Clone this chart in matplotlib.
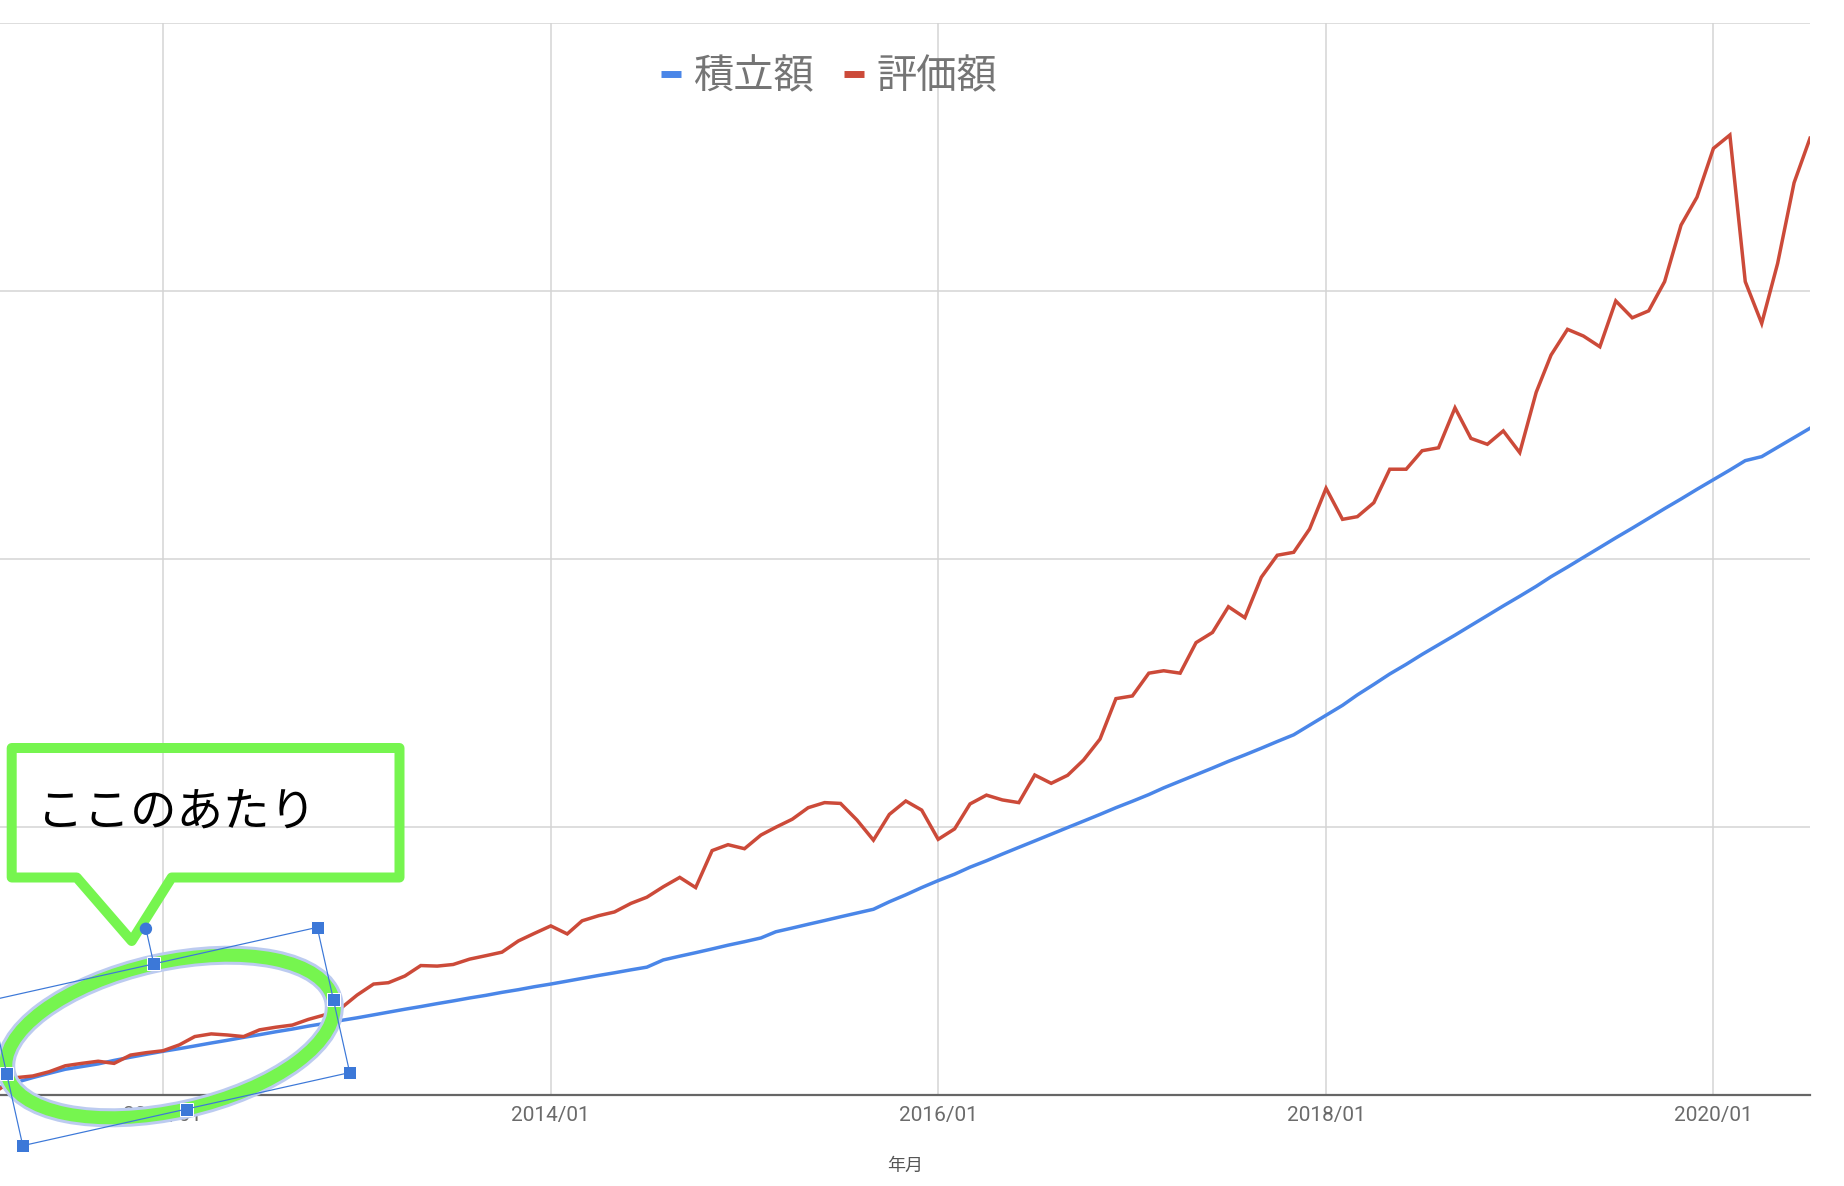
import numpy as np
import pandas as pd
import matplotlib
matplotlib.use('Agg')
import matplotlib.pyplot as plt
import matplotlib.dates as mdates
from matplotlib.lines import Line2D
from matplotlib.patches import Ellipse, Polygon, Rectangle, Circle

plt.rcParams['font.family'] = ['Roboto', 'Noto Sans CJK JP', 'DejaVu Sans']

# monthly points, 2011/03 .. 2020/07
months = pd.date_range('2011-03-01', '2020-07-01', freq='MS')

# 積立額 (cumulative contributions)
contrib = [3.0, 4.8, 6.5, 8.1, 9.6, 10.6, 11.6, 12.9, 14.1, 15.2, 16.3, 17.3, 18.3,
           19.4, 20.4, 21.5, 22.5, 23.6, 24.6, 25.7, 26.7, 27.8, 28.8, 29.9, 30.9,
           32.0, 33.0, 34.1, 35.1, 36.2, 37.2, 38.3, 39.3, 40.4, 41.4, 42.5, 43.5,
           44.6, 45.6, 46.7, 47.7,
           50.4, 51.8, 53.1, 54.5, 55.9, 57.2, 58.6, 60.9, 62.3, 63.7, 65.1, 66.5,
           67.9, 69.3, 72.1, 74.7, 77.4, 80.0, 82.4,
           85.0, 87.4, 89.9, 92.4, 94.8, 97.3, 99.8, 102.2, 104.7, 107.2, 109.6,
           112.1, 114.6, 117.1, 119.5, 122.0, 124.5, 126.9, 129.4, 131.9, 134.4,
           138.0, 141.7, 145.4, 149.3, 153.2, 157.1, 160.7, 164.4, 168.0, 171.6,
           175.2, 178.9, 182.5, 186.1, 189.8, 193.4, 197.0, 200.6, 204.3, 207.9,
           211.5, 215.2, 218.8, 222.4, 226.0, 229.6, 233.2, 236.7, 238.2, 241.7,
           245.3, 248.8]

# 評価額 (market value)
value = [2.5, 6.5, 7.1, 8.7, 10.9, 11.8, 12.6, 11.8, 14.9, 15.8, 16.5, 18.7, 21.8,
         22.8, 22.4, 21.8, 24.3, 25.3, 26.1, 28.2, 29.9, 32.3, 37.3, 41.4, 41.9,
         44.4, 48.3, 48.1, 48.7, 50.7, 52.0, 53.3, 57.5, 60.3, 63.1, 60.1, 65.0,
         66.9, 68.3, 71.5, 73.8, 77.7, 81.2, 77.4, 91.2, 93.4, 91.9, 97.0, 99.9,
         102.9, 107.2, 109.1, 108.8, 102.6, 95.1, 104.7, 109.7, 106.3, 95.4, 99.3,
         108.6, 111.9, 110.1, 109.1, 119.4, 116.3, 119.3, 125.0, 132.8, 147.9,
         148.9, 157.4, 158.3, 157.4, 168.8, 172.6, 182.2, 178.1, 193.2, 201.4,
         202.5, 211.2, 226.4, 214.8, 215.8, 221.0, 233.5, 233.5, 240.4, 241.5,
         256.4, 245.0, 242.8, 247.8, 239.7, 262.2, 276.1, 285.7, 283.2, 279.2,
         296.3, 290.0, 292.6, 303.5, 324.6, 335.0, 353.2, 358.2, 303.5, 287.9,
         310.3, 340.4, 357.0]

labels = ['積立額', '評価額']
colors = ['#4a86e8', '#cc4a39']

W, H = 1844, 1186
fig = plt.figure(figsize=(W / 100, H / 100), dpi=100)
ax = fig.add_axes([0, (H - 1095) / H, 1810 / W, (1095 - 23) / H])

ax.plot(months, contrib, color=colors[0], lw=2.5, solid_joinstyle='miter')
ax.plot(months, value, color=colors[1], lw=2.5, solid_joinstyle='miter')

ax.set_ylim(0, 400)
ax.set_yticks([0, 100, 200, 300, 400])
ax.set_yticklabels([])
ax.set_xlim(pd.Timestamp('2011-02-28'), pd.Timestamp('2020-07-01'))
ax.xaxis.set_major_locator(mdates.YearLocator(2, month=1, day=1))
ax.xaxis.set_major_formatter(mdates.DateFormatter('%Y/%m'))
ax.tick_params(axis='both', length=0)
ax.tick_params(axis='x', pad=8, labelsize=15, labelcolor='#6b6b6b')
ax.grid(True, color='#d4d4d4', lw=1.1)
ax.set_axisbelow(True)
for s in ['top', 'left', 'right']:
    ax.spines[s].set_visible(False)
ax.spines['bottom'].set_color('#666666')
ax.spines['bottom'].set_linewidth(1.6)

ax.set_xlabel('年月', fontsize=13, color='#555555')
ax.xaxis.set_label_coords(0.5, -0.066)
ax.xaxis.label.set_va('center')

handles = [Line2D([], [], color=c, lw=5, solid_capstyle='butt') for c in colors]
leg = ax.legend(handles, labels, loc='center', bbox_to_anchor=(0.458, 0.950),
                ncol=2, frameon=False, fontsize=29, handlelength=0.5,
                handletextpad=0.3, columnspacing=0.75, labelcolor='#757575')

# overlay in pixel coordinates for the hand-drawn annotation
ov = fig.add_axes([0, 0, 1, 1])
ov.set_xlim(0, W)
ov.set_ylim(H, 0)
ov.axis('off')

green = '#76f54f'
px = 0.72  # pixels -> points at dpi 100

callout = [(11.7, 748), (399.5, 748), (399.5, 877.5), (171.7, 877.5),
           (131.7, 941), (76.7, 877.5), (11.7, 877.5)]
ov.add_patch(Polygon(callout, closed=True, fill=False, edgecolor=green,
                     lw=10 * px, joinstyle='round'))
ov.text(37, 812, 'ここのあたり', fontsize=33.5, color='black', ha='left', va='center',
        family=['Noto Sans CJK JP', 'DejaVu Sans'])

cx, cy, ew, eh, ang = 170.0, 1036.5, 335.0, 148.8, -12.6
ov.add_patch(Ellipse((cx, cy), ew, eh, angle=ang, fill=False,
                     edgecolor='#bccbf0', lw=19 * px))
ov.add_patch(Ellipse((cx, cy), ew, eh, angle=ang, fill=False,
                     edgecolor=green, lw=13 * px))

t = np.radians(ang)
u = np.array([np.cos(t), np.sin(t)])
v = np.array([-np.sin(t), np.cos(t)])
c = np.array([cx, cy])
corners = [c - ew / 2 * u - eh / 2 * v, c + ew / 2 * u - eh / 2 * v,
           c + ew / 2 * u + eh / 2 * v, c - ew / 2 * u + eh / 2 * v]
box = np.array(corners + [corners[0]])
hblue = '#3c78d8'
ov.plot(box[:, 0], box[:, 1], color=hblue, lw=1.2 * px)
top_mid = c - eh / 2 * v
rot = top_mid - 36 * v
ov.plot([top_mid[0], rot[0]], [top_mid[1], rot[1]], color=hblue, lw=1.2 * px)
ov.add_patch(Circle(rot, 5.5, color=hblue))
mids = [c - eh / 2 * v, c + ew / 2 * u, c + eh / 2 * v, c - ew / 2 * u]
for p in corners + mids:
    ov.add_patch(Rectangle((p[0] - 6.5, p[1] - 6.5), 13, 13, facecolor=hblue,
                           edgecolor='white', lw=1 * px))

fig.savefig('out.png', dpi=100)
